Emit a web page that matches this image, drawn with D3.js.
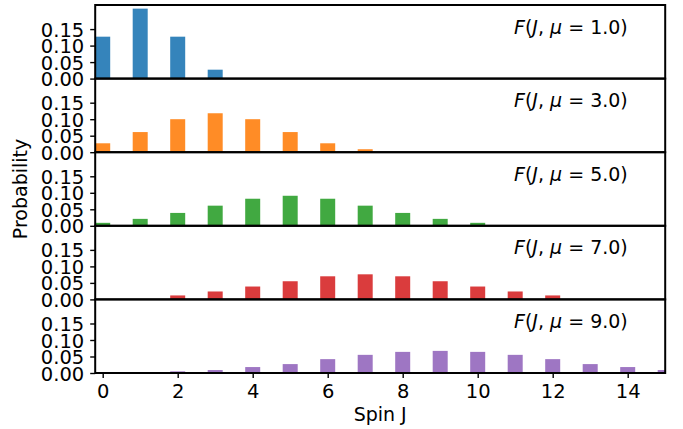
<!DOCTYPE html>
<html><head><meta charset="utf-8">
<script src="https://cdn.jsdelivr.net/npm/d3@7"></script>
<style>body{margin:0;background:#fff}svg{display:block}text{font-family:"DejaVu Sans",sans-serif}</style>
</head><body><svg id="c" width="683" height="429"></svg>
<script>
const spins = d3.range(0, 16);
const mus = [1.0, 3.0, 5.0, 7.0, 9.0];
const probMu1 = [0.127,0.212,0.127,0.027,0,0,0,0,0,0,0,0,0,0,0,0];
const probMu3 = [0.027,0.061,0.100,0.118,0.100,0.061,0.027,0.009,0,0,0,0,0,0,0,0];
const probMu5 = [0.009,0.021,0.039,0.061,0.082,0.091,0.082,0.061,0.039,0.021,0.009,0,0,0,0,0];
const probMu7 = [0,0,0.012,0.024,0.039,0.055,0.070,0.076,0.070,0.055,0.039,0.024,0.012,0,0,0];
const probMu9 = [0,0,0.005,0.009,0.018,0.027,0.042,0.055,0.064,0.067,0.064,0.055,0.042,0.027,0.018,0.009];
const series = [probMu1, probMu3, probMu5, probMu7, probMu9];
const colors = ["#1f77b4","#ff7f0e","#2ca02c","#d62728","#9467bd"];
const yTicks = [0, 0.05, 0.10, 0.15];
const xTicks = [0, 2, 4, 6, 8, 10, 12, 14];

const svg = d3.select("#c");
const L = 95.2, R = 665.2, T = 5, B = 373;
const ph = (B - T) / mus.length;
const x = d3.scaleLinear().domain([-0.2, 15]).range([L, R]);
const bw = x(0.4) - x(0);

svg.append("defs").append("clipPath").attr("id", "clip")
  .append("rect").attr("x", L).attr("y", T).attr("width", R - L).attr("height", B - T);

series.forEach((vals, i) => {
  const top = T + i * ph;
  const y = d3.scaleLinear().domain([0, 0.223]).range([top + ph, top]);
  const g = svg.append("g");
  g.append("g").attr("clip-path", "url(#clip)")
    .selectAll("rect.bar").data(spins).enter().append("rect")
    .attr("x", d => x(d) - bw / 2)
    .attr("y", d => y(vals[d]))
    .attr("width", bw)
    .attr("height", d => y(0) - y(vals[d]))
    .attr("fill", colors[i]).attr("fill-opacity", 0.9);
  const ax = g.append("g").attr("transform", `translate(${L},0)`)
    .call(d3.axisLeft(y).tickValues(yTicks).tickFormat(d3.format(".2f")).tickSize(5).tickPadding(6));
  ax.select(".domain").remove();
  ax.selectAll("line").attr("stroke", "#000").attr("stroke-width", 1.4);
  ax.selectAll("text").attr("font-size", 19.5).attr("fill", "#000").attr("dy", "0.36em");
  // annotation
  const t = g.append("text").attr("x", 514).attr("y", top + 28.5).attr("font-size", 19).attr("fill", "#000");
  t.append("tspan").attr("font-style", "italic").text("F");
  t.append("tspan").text("(");
  t.append("tspan").attr("font-style", "italic").text("J");
  t.append("tspan").text(", ");
  t.append("tspan").attr("font-style", "italic").text("μ");
  t.append("tspan").text(" = " + mus[i].toFixed(1) + ")");
  g.append("rect").attr("x", L).attr("y", top).attr("width", R - L).attr("height", ph)
    .attr("fill", "none").attr("stroke", "#000").attr("stroke-width", 2);
});

const xa = svg.append("g").attr("transform", `translate(0,${B})`)
  .call(d3.axisBottom(x).tickValues(xTicks).tickFormat(d3.format("d")).tickSize(5).tickPadding(6));
xa.select(".domain").remove();
xa.selectAll("line").attr("stroke", "#000").attr("stroke-width", 1.4);
xa.selectAll("text").attr("font-size", 19.5).attr("fill", "#000");

svg.append("text").attr("x", (L + R) / 2).attr("y", 421).attr("text-anchor", "middle")
  .attr("font-size", 19).text("Spin J");
svg.append("text").attr("transform", `translate(27,${(T + B) / 2}) rotate(-90)`)
  .attr("text-anchor", "middle").attr("font-size", 19).text("Probability");
</script></body></html>
